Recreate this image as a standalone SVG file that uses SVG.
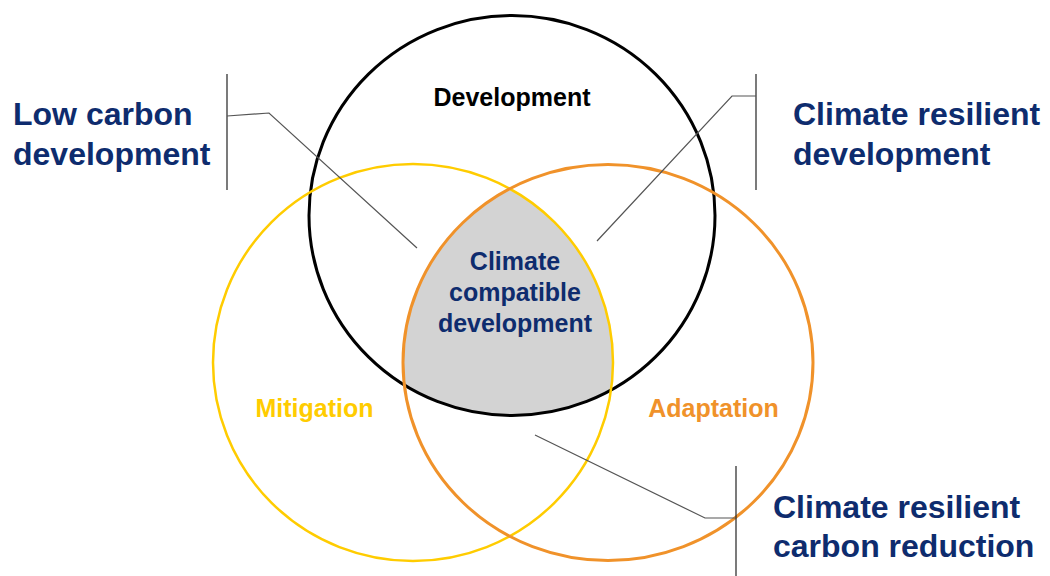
<svg xmlns="http://www.w3.org/2000/svg" width="1050" height="576" viewBox="0 0 1050 576">
<style>
.t{font-family:"Liberation Sans",Arial,sans-serif;font-weight:bold}
.big{font-size:32px;fill:#0E2C6E}
.mid{font-size:25px}
.conn{fill:none;stroke:#555;stroke-width:1.2}
.brk{fill:none;stroke:#222;stroke-width:1.2}
</style>
<defs>
<clipPath id="cB"><ellipse cx="512" cy="215.5" rx="203" ry="200"/></clipPath>
<clipPath id="cO"><ellipse cx="608" cy="362.5" rx="205" ry="198"/></clipPath>
</defs>
<rect width="1050" height="576" fill="#fff"/>
<g id="overlap">
<g clip-path="url(#cO)"><ellipse cx="413" cy="362.5" rx="200" ry="198.5" fill="#D3D3D3" clip-path="url(#cB)"/></g>
</g>
<g id="development">
<ellipse cx="512" cy="215.5" rx="203" ry="200" fill="none" stroke="#000" stroke-width="3"/>
<text class="t mid" x="512" y="106" text-anchor="middle" fill="#000">Development</text>
</g>
<g id="mitigation">
<ellipse cx="413" cy="362.5" rx="200" ry="198.5" fill="none" stroke="#FFCC00" stroke-width="2.5"/>
<text class="t mid" x="314.5" y="417" text-anchor="middle" fill="#FFCC00">Mitigation</text>
</g>
<g id="adaptation">
<ellipse cx="608" cy="362.5" rx="205" ry="198" fill="none" stroke="#F0922A" stroke-width="3"/>
<text class="t mid" x="713.5" y="417" text-anchor="middle" fill="#F0922A">Adaptation</text>
</g>
<g id="ccd">
<text class="t mid" text-anchor="middle" fill="#0E2C6E"><tspan x="515" y="270">Climate</tspan><tspan x="515" y="301">compatible</tspan><tspan x="515" y="332">development</tspan></text>
</g>
<g id="low-carbon">
<text class="t big" x="13" y="125">Low carbon</text>
<text class="t big" x="13" y="165">development</text>
</g>
<g id="crd">
<text class="t big" x="793" y="125">Climate resilient</text>
<text class="t big" x="793" y="165">development</text>
</g>
<g id="crcr">
<text class="t big" x="773" y="518">Climate resilient</text>
<text class="t big" x="773" y="557">carbon reduction</text>
</g>
<g id="connectors">
<path class="brk" d="M227 74V190"/>
<path class="conn" d="M227 116L269 113L417 248"/>
<path class="brk" d="M756 74V190"/>
<path class="conn" d="M756 96H732L597 241"/>
<path class="brk" d="M736 466V576"/>
<path class="conn" d="M736 518H705L535 435"/>
</g>
</svg>
